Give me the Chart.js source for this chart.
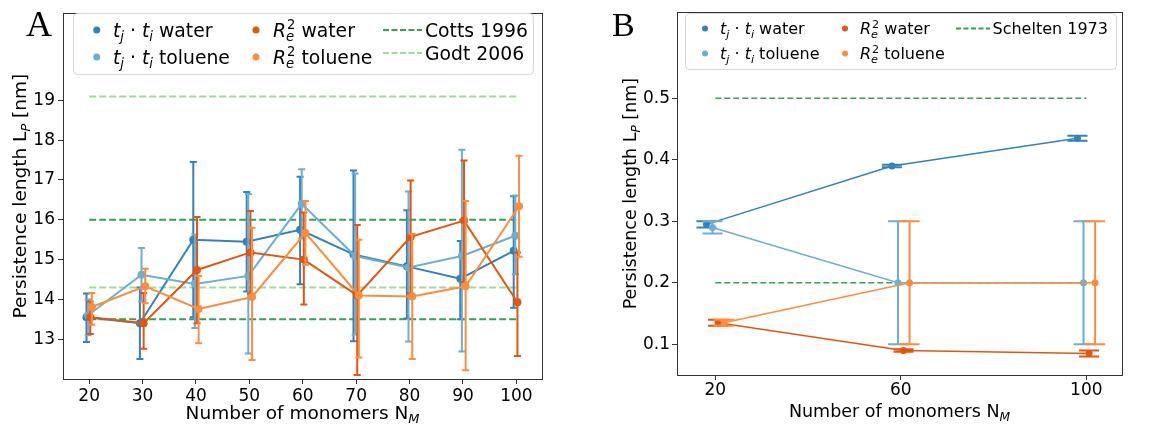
<!DOCTYPE html>
<html><head><meta charset="utf-8">
<script src="https://cdn.jsdelivr.net/npm/chart.js@4.4.1/dist/chart.umd.min.js"></script>
<style>
html,body{margin:0;padding:0;background:#fff;width:1154px;height:430px;overflow:hidden}
#wa{position:absolute;left:0;top:0;width:560px;height:430px}
#wb{position:absolute;left:580px;top:0;width:574px;height:430px}
</style></head><body>
<div id="wa"><canvas id="ca"></canvas></div>
<div id="wb"><canvas id="cb"></canvas></div>
<script>
// ---- Panel A: persistence length vs. chain length ----
const monomersA = [20, 30, 40, 50, 60, 70, 80, 90, 100];
const ttWaterA   = [13.55, 13.40, 15.50, 15.45, 15.75, 15.13, 14.83, 14.52, 15.22];
const ttWaterLoA = [12.93, 12.50, 13.55, 14.20, 14.38, 12.95, 13.52, 13.50, 13.79];
const ttWaterHiA = [14.15, 14.30, 17.45, 16.70, 17.08, 17.24, 16.24, 15.47, 16.59];
const ttTolA     = [13.60, 14.62, 14.39, 14.59, 16.40, 15.09, 14.80, 15.09, 15.60];
const ttTolLoA   = [13.10, 13.95, 13.28, 12.64, 15.53, 13.12, 12.94, 12.69, 14.63];
const ttTolHiA   = [14.00, 15.29, 15.63, 16.65, 17.27, 17.16, 16.71, 17.76, 16.61];
const reWaterA   = [13.55, 13.40, 14.74, 15.18, 15.00, 14.10, 15.57, 15.98, 13.93];
const reWaterLoA = [13.13, 12.76, 13.40, 14.14, 13.87, 12.10, 14.15, 14.43, 12.58];
const reWaterHiA = [13.95, 14.16, 16.07, 16.22, 16.18, 15.87, 16.99, 17.49, 15.18];
const reTolA     = [13.81, 14.33, 13.76, 14.06, 15.67, 14.10, 14.07, 14.33, 16.34];
const reTolLoA   = [13.36, 13.90, 12.90, 12.48, 14.87, 12.54, 12.50, 12.22, 15.07];
const reTolHiA   = [14.16, 14.77, 14.59, 15.80, 16.47, 15.50, 15.64, 16.47, 17.61];
const cottsA = [13.5, 16.0];
const godtA  = [14.3, 19.1];
const yTicksA = [13, 14, 15, 16, 17, 18, 19];
const dodgeA = [-0.5, -0.2, 0.2, 0.5];

// ---- Panel B ----
const monomersB = [20, 60, 100];
const ttWaterB    = [0.295, 0.390, 0.435];
const ttWaterErrB = [0.005, 0.002, 0.004];
const ttTolB      = [0.290, 0.200, 0.200];
const ttTolErrB   = [0.010, 0.100, 0.100];
const reWaterB    = [0.135, 0.090, 0.085];
const reWaterErrB = [0.005, 0.002, 0.005];
const reTolB      = [0.135, 0.200, 0.200];
const reTolErrB   = [0.005, 0.100, 0.100];
const scheltenB = [0.2, 0.5];
const yTicksB = [0.1, 0.2, 0.3, 0.4, 0.5];
const dodgeB = [-1.9, -0.6, 0.6, 1.9];

const C_TT_W = '#3182bd', C_TT_T = '#6baed6', C_RE_W = '#e6550d', C_RE_T = '#fd8d3c';
const C_REF1 = '#31a354', C_REF2 = '#a1d99b';
const FONT = '"DejaVu Sans", sans-serif';

// legend labels as mathtext-like runs
const labTTw = [{t:'t', it:1}, {sub:'j'}, {t:' · '}, {t:'t', it:1}, {sub:'i'}, {t:' water'}];
const labTTt = [{t:'t', it:1}, {sub:'j'}, {t:' · '}, {t:'t', it:1}, {sub:'i'}, {t:' toluene'}];
const labREw = [{t:'R', it:1}, {sub:'e', sup:'2'}, {t:' water'}];
const labREt = [{t:'R', it:1}, {sub:'e', sup:'2'}, {t:' toluene'}];

function richText(ctx, runs, x, y, size, draw) {
  let cx = x;
  for (const r of runs) {
    if (r.sub !== undefined || r.sup !== undefined) {
      const ss = size * 0.7;
      let w = 0;
      if (r.sup) {
        ctx.font = `${ss}px ${FONT}`;
        if (draw) ctx.fillText(r.sup, cx + 1, y - size * 0.42);
        w = Math.max(w, ctx.measureText(r.sup).width + 1);
      }
      if (r.sub) {
        ctx.font = `italic ${ss}px ${FONT}`;
        if (draw) ctx.fillText(r.sub, cx, y + size * 0.22);
        w = Math.max(w, ctx.measureText(r.sub).width);
      }
      cx += w;
    } else {
      ctx.font = `${r.it ? 'italic ' : ''}${size}px ${FONT}`;
      if (draw) ctx.fillText(r.t, cx, y);
      cx += ctx.measureText(r.t).width;
    }
  }
  return cx - x;
}

function seriesData(xs, ys, dx) { return xs.map((v, i) => ({x: v + dx, y: ys[i]})); }
function refLine(xs, v) { return [{x: xs[0], y: v}, {x: xs[xs.length - 1], y: v}]; }

function errDataset(label, color, xs, ys, lo, hi, dx, order, lw, r, capW) {
  return {
    label, data: seriesData(xs, ys, dx), errLo: lo, errHi: hi, capW,
    borderColor: color, backgroundColor: color, borderWidth: lw,
    pointRadius: r, pointHoverRadius: r, pointBorderWidth: 0, tension: 0, order
  };
}
function refDataset(color, xs, v, dash, lw) {
  return {
    data: refLine(xs, v), borderColor: color, borderWidth: lw, borderDash: dash,
    pointRadius: 0, order: 10, fill: false
  };
}

const errorBars = {
  id: 'errorBars',
  beforeDatasetDraw(chart, args) {
    const ds = chart.data.datasets[args.index];
    if (!ds.errLo) return;
    const ctx = chart.ctx, xs = chart.scales.x, ys = chart.scales.y;
    ctx.save();
    ctx.strokeStyle = ds.borderColor;
    ctx.lineWidth = 2;
    ds.data.forEach((p, i) => {
      const px = xs.getPixelForValue(p.x);
      const y1 = ys.getPixelForValue(ds.errLo[i]);
      const y2 = ys.getPixelForValue(ds.errHi[i]);
      ctx.beginPath();
      ctx.moveTo(px, y1); ctx.lineTo(px, y2);
      ctx.moveTo(px - ds.capW, y1); ctx.lineTo(px + ds.capW, y1);
      ctx.moveTo(px - ds.capW, y2); ctx.lineTo(px + ds.capW, y2);
      ctx.stroke();
    });
    ctx.restore();
  }
};

function decorations(opts) {
  return {
    id: 'decor',
    afterDraw(chart) {
      const ctx = chart.ctx, a = chart.chartArea;
      ctx.save();
      // frame
      ctx.strokeStyle = '#333'; ctx.lineWidth = 1;
      ctx.strokeRect(Math.round(a.left) + 0.5, Math.round(a.top) + 0.5,
                     Math.round(a.right - a.left), Math.round(a.bottom - a.top));
      // panel letter
      ctx.fillStyle = '#000';
      ctx.font = `${opts.letterSize}px "Liberation Serif", "DejaVu Serif", serif`;
      ctx.textBaseline = 'alphabetic';
      ctx.fillText(opts.letter, opts.letterX, opts.letterY);
      // axis titles
      const fs = opts.titleSize;
      ctx.fillStyle = '#000';
      const xRuns = [{t:'Number of monomers N'}, {sub:'M'}];
      ctx.textAlign = 'left';
      const wx = richText(ctx, xRuns, 0, 0, fs, false);
      richText(ctx, xRuns, (a.left + a.right) / 2 - wx / 2, opts.xTitleY, fs, true);
      const yRuns = [{t:'Persistence length L'}, {sub:'P'}, {t:' [nm]'}];
      const wy = richText(ctx, yRuns, 0, 0, fs, false);
      ctx.save();
      ctx.translate(opts.yTitleX, (a.top + a.bottom) / 2);
      ctx.rotate(-Math.PI / 2);
      richText(ctx, yRuns, -wy / 2, 0, fs, true);
      ctx.restore();
      // legend
      const L = opts.legend;
      ctx.beginPath();
      ctx.roundRect(L.x, L.y, L.w, L.h, 4);
      ctx.fillStyle = 'rgba(255,255,255,0.8)'; ctx.fill();
      ctx.strokeStyle = '#d6d6d6'; ctx.lineWidth = 1; ctx.stroke();
      L.items.forEach(it => {
        const base = it.cy + L.fs * 0.36;
        if (it.kind === 'pt') {
          ctx.beginPath(); ctx.arc(it.mx, it.cy, L.pr, 0, Math.PI * 2);
          ctx.fillStyle = it.color; ctx.fill();
        } else {
          ctx.beginPath(); ctx.setLineDash(L.dash);
          ctx.moveTo(it.mx, it.cy); ctx.lineTo(it.mx2, it.cy);
          ctx.strokeStyle = it.color; ctx.lineWidth = 2; ctx.stroke();
          ctx.setLineDash([]);
        }
        ctx.fillStyle = '#000';
        richText(ctx, it.runs, it.tx, base, L.fs, true);
      });
      ctx.restore();
    }
  };
}

function axisOpts(min, max, ticks, fit, isX, pad) {
  return {
    type: 'linear', min, max,
    afterBuildTicks: s => { s.ticks = ticks.map(v => ({value: v})); },
    afterFit: s => { if (isX) s.height = fit; else s.width = fit; },
    ticks: {
      font: {family: FONT, size: 17}, color: '#000', padding: pad,
      maxRotation: 0, autoSkip: false,
      callback: v => String(Math.round(v * 10) / 10)
    },
    grid: {drawOnChartArea: false, drawTicks: true, tickLength: 5, color: '#333', tickColor: '#333'},
    border: {display: true, color: '#333'}
  };
}

function baseOptions(pad) {
  return {
    responsive: true, maintainAspectRatio: false, animation: false,
    layout: {padding: pad},
    plugins: {legend: {display: false}, tooltip: {enabled: false}},
    events: []
  };
}

// ---- build chart A ----
const dsA = [
  refDataset(C_REF1, monomersA, cottsA[0], [7, 3], 2),
  refDataset(C_REF1, monomersA, cottsA[1], [7, 3], 2),
  refDataset(C_REF2, monomersA, godtA[0], [7, 3], 2),
  refDataset(C_REF2, monomersA, godtA[1], [7, 3], 2),
  errDataset('tt water', C_TT_W, monomersA, ttWaterA, ttWaterLoA, ttWaterHiA, dodgeA[0], 4, 2, 4, 3.5),
  errDataset('tt toluene', C_TT_T, monomersA, ttTolA, ttTolLoA, ttTolHiA, dodgeA[1], 3, 2, 4, 3.5),
  errDataset('Re water', C_RE_W, monomersA, reWaterA, reWaterLoA, reWaterHiA, dodgeA[2], 2, 2, 4, 3.5),
  errDataset('Re toluene', C_RE_T, monomersA, reTolA, reTolLoA, reTolHiA, dodgeA[3], 1, 2, 4, 3.5)
];
const optA = baseOptions({left: 0, right: 18, top: 4, bottom: 0});
optA.scales = {
  x: axisOpts(15.1, 104.8, monomersA, 51, true, 2),
  y: axisOpts(12.0, 21.19, yTicksA, 63, false, 3)
};
new Chart(document.getElementById('ca'), {
  type: 'line', data: {datasets: dsA}, options: optA,
  plugins: [errorBars, decorations({
    letter: 'A', letterX: 26, letterY: 36, letterSize: 36,
    titleSize: 18.5, xTitleY: 419, yTitleX: 26,
    legend: {
      x: 73.5, y: 13.5, w: 460, h: 61, fs: 18.8, pr: 3.5, dash: [6, 2.5],
      items: [
        {kind: 'pt', color: C_TT_W, mx: 96.7, cy: 30, tx: 113, runs: labTTw},
        {kind: 'pt', color: C_TT_T, mx: 96.7, cy: 57, tx: 113, runs: labTTt},
        {kind: 'pt', color: C_RE_W, mx: 256, cy: 30, tx: 273, runs: labREw},
        {kind: 'pt', color: C_RE_T, mx: 256, cy: 57, tx: 273, runs: labREt},
        {kind: 'ln', color: C_REF1, mx: 383, mx2: 422, cy: 30, tx: 425, runs: [{t:'Cotts 1996'}]},
        {kind: 'ln', color: C_REF2, mx: 383, mx2: 422, cy: 53, tx: 425, runs: [{t:'Godt 2006'}]}
      ]
    }
  })]
});

// ---- build chart B ----
const lo = (v, e) => v.map((x, i) => x - e[i]);
const hi = (v, e) => v.map((x, i) => x + e[i]);
const dsB = [
  refDataset(C_REF1, monomersB, scheltenB[0], [6, 3], 1.5),
  refDataset(C_REF1, monomersB, scheltenB[1], [6, 3], 1.5),
  errDataset('tt water', C_TT_W, monomersB, ttWaterB, lo(ttWaterB, ttWaterErrB), hi(ttWaterB, ttWaterErrB), dodgeB[0], 4, 1.5, 3.5, 10),
  errDataset('tt toluene', C_TT_T, monomersB, ttTolB, lo(ttTolB, ttTolErrB), hi(ttTolB, ttTolErrB), dodgeB[1], 3, 1.5, 3.5, 10),
  errDataset('Re water', C_RE_W, monomersB, reWaterB, lo(reWaterB, reWaterErrB), hi(reWaterB, reWaterErrB), dodgeB[2], 2, 1.5, 3.5, 10),
  errDataset('Re toluene', C_RE_T, monomersB, reTolB, lo(reTolB, reTolErrB), hi(reTolB, reTolErrB), dodgeB[3], 1, 1.5, 3.5, 10)
];
const optB = baseOptions({left: 0, right: 32, top: 4, bottom: 0});
optB.scales = {
  x: axisOpts(11.75, 107.7, monomersB, 55, true, 0),
  y: axisOpts(0.05, 0.64, yTicksB, 97, false, 2)
};
new Chart(document.getElementById('cb'), {
  type: 'line', data: {datasets: dsB}, options: optB,
  plugins: [errorBars, decorations({
    letter: 'B', letterX: 32, letterY: 36, letterSize: 34,
    titleSize: 17.5, xTitleY: 417, yTitleX: 56,
    legend: {
      x: 105.5, y: 13.5, w: 431, h: 56, fs: 16, pr: 3, dash: [5, 2.5],
      items: [
        {kind: 'pt', color: C_TT_W, mx: 125, cy: 28.5, tx: 140, runs: labTTw},
        {kind: 'pt', color: C_TT_T, mx: 125, cy: 53.5, tx: 140, runs: labTTt},
        {kind: 'pt', color: C_RE_W, mx: 265, cy: 28.5, tx: 280, runs: labREw},
        {kind: 'pt', color: C_RE_T, mx: 265, cy: 53.5, tx: 280, runs: labREt},
        {kind: 'ln', color: C_REF1, mx: 376, mx2: 410, cy: 28.5, tx: 412.5, runs: [{t:'Schelten 1973'}]}
      ]
    }
  })]
});
</script>
</body></html>
